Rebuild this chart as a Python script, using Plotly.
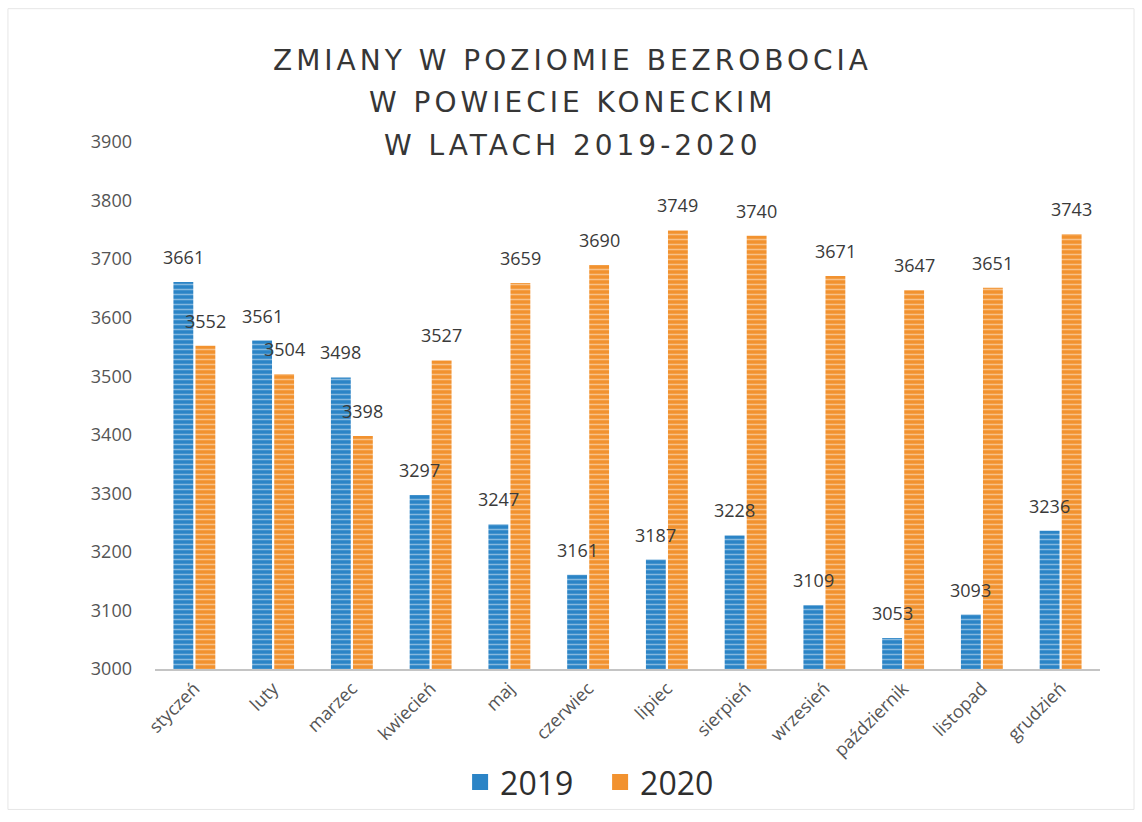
import plotly.graph_objects as go

months = ["styczeń", "luty", "marzec", "kwiecień", "maj", "czerwiec", "lipiec",
          "sierpień", "wrzesień", "październik", "listopad", "grudzień"]
values_2019 = [3661, 3561, 3498, 3297, 3247, 3161, 3187, 3228, 3109, 3053, 3093, 3236]
values_2020 = [3552, 3504, 3398, 3527, 3659, 3690, 3749, 3740, 3671, 3647, 3651, 3743]
y_ticks = [3000, 3100, 3200, 3300, 3400, 3500, 3600, 3700, 3800, 3900]
title_lines = ["ZMIANY W POZIOMIE BEZROBOCIA", "W POWIECIE KONECKIM", "W LATACH 2019-2020"]
series_names = ["2019", "2020"]

BLUE = "#2b84c6"
ORANGE = "#f2922f"
FONT = "Open Sans"
BAR_SHIFT = 11  # px offset of each grouped bar centre from the category centre

fig = go.Figure()

# title lines (first annotations -> letter-spaced by post script)
for line, ypos in zip(title_lines, [1.155, 1.0756, 0.9943]):
    fig.add_annotation(text=line, xref="paper", yref="paper", x=0.442, y=ypos,
                       xanchor="center", yanchor="middle", showarrow=False,
                       font=dict(family="DejaVu Sans", size=28, color="#363636"))

for name, vals, col, sh in [(series_names[0], values_2019, BLUE, -BAR_SHIFT),
                            (series_names[1], values_2020, ORANGE, BAR_SHIFT)]:
    fig.add_trace(go.Bar(
        x=months, y=vals, name=name, showlegend=False,
        marker=dict(color=col, line=dict(width=0),
                    pattern=dict(shape="-", fgcolor="rgba(255,255,255,0.85)",
                                 bgcolor=col, size=5, solidity=0.3, fillmode="overlay")),
    ))
    for m, v in zip(months, vals):
        fig.add_annotation(x=m, y=v, text=str(v), showarrow=False, xshift=sh, yshift=11,
                           yanchor="bottom", xanchor="center",
                           font=dict(family=FONT, size=18, color="#3a3a3a"))
    # legend entry
    fig.add_trace(go.Scatter(x=[None], y=[None], mode="markers", name=name,
                             marker=dict(symbol="square", size=20, color=col)))

fig.update_layout(
    width=1142, height=822,
    paper_bgcolor="white", plot_bgcolor="white",
    margin=dict(l=155, r=42, t=142, b=151),
    barmode="group", bargap=0.44, bargroupgap=0.1,
    legend=dict(orientation="h", x=0.471, xanchor="center", y=-0.215, yanchor="middle",
                font=dict(family=FONT, size=32, color="#2e2e2e"),
                itemsizing="trace", traceorder="normal", bgcolor="rgba(0,0,0,0)",
                entrywidth=95, entrywidthmode="pixels"),
    showlegend=True,
)
fig.update_xaxes(showline=True, linecolor="#c4c4c4", linewidth=2, ticks="",
                 tickangle=-45, tickfont=dict(family=FONT, size=18, color="#555555"),
                 showgrid=False)
fig.update_yaxes(range=[3000, 3900], tickvals=y_ticks, showgrid=False, showline=False,
                 zeroline=False, ticks="", tickfont=dict(family=FONT, size=18, color="#555555"),
                 ticklabelstandoff=22)
fig.add_shape(type="rect", xref="paper", yref="paper", x0=-0.1556, x1=1.036, y0=-0.2665, y1=1.253,
              line=dict(color="#e6e6e6", width=1))

post = """
document.body.style.margin = '0';
function spaceTitle(){
  var gd = document.getElementById('{plot_id}');
  gd.querySelectorAll('.annotation').forEach(function(g){
    var i = +g.getAttribute('data-index');
    if (i < 3) { g.querySelectorAll('text').forEach(function(t){ t.style.letterSpacing = '4px'; }); }
  });
}
spaceTitle();
document.getElementById('{plot_id}').on('plotly_afterplot', spaceTitle);
"""
fig.write_html("out.html", post_script=post, config={"displayModeBar": False})
